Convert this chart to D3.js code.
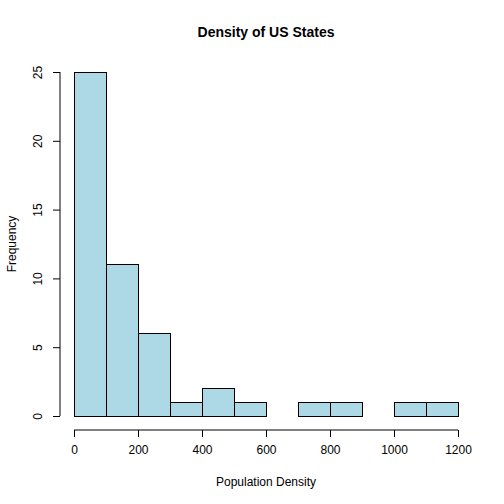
<!DOCTYPE html>
<html>
<head>
<meta charset="utf-8">
<script src="https://cdn.jsdelivr.net/npm/d3@7"></script>
<style>
  body { margin: 0; background: #fff; }
  text { font-family: "Liberation Sans", Arial, sans-serif; }
</style>
</head>
<body>
<div id="chart"></div>
<script>
// histogram bins (population density) and counts
const binStarts = [0, 100, 200, 300, 400, 500, 600, 700, 800, 900, 1000, 1100];
const binWidth = 100;
const counts = [25, 11, 6, 1, 2, 1, 0, 1, 1, 0, 1, 1];
const xTicks = [0, 200, 400, 600, 800, 1000, 1200];
const yTicks = [0, 5, 10, 15, 20, 25];

const width = 504, height = 504;

const svg = d3.select('#chart').append('svg')
    .attr('width', width)
    .attr('height', height);

const x = d3.scaleLinear().domain([0, 1200]).range([74, 458]);
const y = d3.scaleLinear().domain([0, 25]).range([416, 72]);

// bars
svg.append('g').selectAll('rect')
    .data(binStarts.map((s, i) => ({ start: s, count: counts[i] })))
    .join('rect')
    .attr('x', d => x(d.start))
    .attr('y', d => y(d.count))
    .attr('width', d => x(d.start + binWidth) - x(d.start))
    .attr('height', d => y(0) - y(d.count))
    .attr('fill', '#add8e6')
    .attr('stroke', '#000')
    .attr('stroke-width', 1)
    .attr('shape-rendering', 'crispEdges');

// x axis
const xAxis = svg.append('g')
    .attr('transform', 'translate(0,430)')
    .call(d3.axisBottom(x).tickValues(xTicks).tickSize(7).tickPadding(8).tickFormat(d3.format('d')));
xAxis.selectAll('text').style('font-size', '12px').style('fill', '#000');
xAxis.selectAll('line, path').attr('stroke', '#000');
xAxis.select('.domain').attr('d', `M${x(0)},0H${x(1200)}`);

// y axis
const yAxis = svg.append('g')
    .attr('transform', 'translate(60,0)')
    .call(d3.axisLeft(y).tickValues(yTicks).tickSize(7).tickPadding(0));
yAxis.selectAll('line, path').attr('stroke', '#000');
yAxis.select('.domain').attr('d', `M0,${y(0)}V${y(25)}`);
yAxis.selectAll('text')
    .style('font-size', '12px')
    .style('fill', '#000')
    .attr('text-anchor', 'middle')
    .attr('x', 0)
    .attr('dy', 0)
    .attr('transform', d => `translate(-18,${0}) rotate(-90)`);

// title
svg.append('text')
    .attr('x', 266).attr('y', 37)
    .attr('text-anchor', 'middle')
    .style('font-size', '14px')
    .style('font-weight', 'bold')
    .text('Density of US States');

svg.append('text')
    .attr('x', 266).attr('y', 486)
    .attr('text-anchor', 'middle')
    .style('font-size', '12px')
    .text('Population Density');

svg.append('text')
    .attr('transform', 'translate(16,244) rotate(-90)')
    .attr('text-anchor', 'middle')
    .style('font-size', '12px')
    .text('Frequency');
</script>
</body>
</html>
